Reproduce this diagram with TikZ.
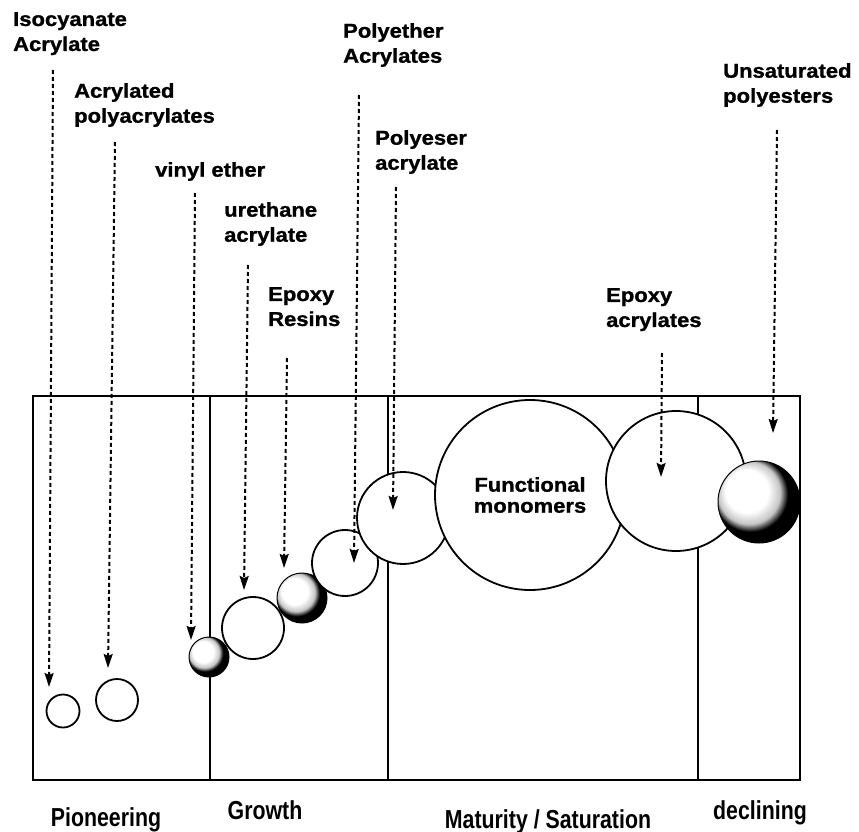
\documentclass[tikz,border=0pt]{standalone}
\usepackage{fontspec}
\setmainfont{Liberation Sans}
\newfontfamily\labfont{Liberation Sans}[FakeStretch=1.1, FakeBold=1.2]
\newfontfamily\phasefont{Liberation Sans}[FakeStretch=0.82]
\usetikzlibrary{arrows.meta}

\pgfdeclareradialshading{sphere}{\pgfpoint{-10bp}{9bp}}{%
  color(0bp)=(white); color(13bp)=(white); color(19bp)=(gray!45);
  color(23bp)=(black); color(50bp)=(black)}

\begin{document}
\begin{tikzpicture}[x=1pt, y=-1pt,
  lab/.style={anchor=north west, inner sep=0pt, align=left, font=\labfont\bfseries\fontsize{20}{25}\selectfont},
  phase/.style={anchor=north, inner sep=0pt, font=\phasefont\bfseries\fontsize{26}{30}\selectfont},
  bubble/.style={circle, draw, line width=1.8pt, fill=white, inner sep=0pt},
  ball/.style={circle, draw, line width=1pt, shading=sphere, inner sep=0pt},
  arr/.style={-{Stealth[length=14pt, width=9pt, inset=2pt]}, line width=2pt, dash pattern=on 4pt off 3pt}]
\useasboundingbox (0,0) rectangle (859,832);

% frame and phases
\draw[line width=2pt] (33,396) rectangle (800,780);
\draw[line width=2.4pt] (210,396) -- (210,780);
\draw[line width=2pt] (388,396) -- (388,780);
\draw[line width=2pt] (698,396) -- (698,780);

\node[phase] (pio) at (106,807) {Pioneering};
\node[phase] (gro) at (265,800) {Growth};
\node[phase] (mat) at (548,809) {Maturity / Saturation};
\node[phase] (dec) at (760,800) {declining};

% bubbles
\node[bubble, minimum size=33pt] (iso) at (63,711) {};
\node[bubble, minimum size=42pt] (acr) at (117,700) {};
\node[ball, minimum size=40pt] (vin) at (209,657) {};
\node[bubble, minimum size=62pt] (ure) at (253,628) {};
\node[ball, minimum size=50pt] (epr) at (302,598) {};
\node[bubble, minimum size=66pt] (pet) at (345,563) {};
\node[bubble, minimum size=92pt] (pes) at (403,518) {};
\node[bubble, minimum size=190pt, align=center, font=\labfont\bfseries\fontsize{20}{21}\selectfont] (fun) at (530,495) {Functional\\monomers};
\node[bubble, minimum size=140pt] (eac) at (676,481) {};
\node[ball, minimum size=82pt] (uns) at (759,502) {};

% labels
\node[lab] (isoL) at (13,12) {Isocyanate\\Acrylate};
\node[lab] (acrL) at (74,83) {Acrylated\\polyacrylates};
\node[lab] (vinL) at (155,162) {vinyl ether};
\node[lab] (ureL) at (224,202) {urethane\\acrylate};
\node[lab] (eprL) at (268,287) {Epoxy\\Resins};
\node[lab] (petL) at (343,23) {Polyether\\Acrylates};
\node[lab] (pesL) at (375,130) {Polyeser\\acrylate};
\node[lab] (eacL) at (606,288) {Epoxy\\acrylates};
\node[lab] (unsL) at (723,63) {Unsaturated\\polyesters};

% pointers
\coordinate (isoS) at (53,70);   \coordinate (isoE) at (49,687);
\coordinate (acrS) at (115,142); \coordinate (acrE) at (108,668);
\coordinate (vinS) at (195,193); \coordinate (vinE) at (191,640);
\coordinate (ureS) at (248,265); \coordinate (ureE) at (244,590);
\coordinate (eprS) at (287,358); \coordinate (eprE) at (284,568);
\coordinate (petS) at (359,95);  \coordinate (petE) at (354,563);
\coordinate (pesS) at (396,187); \coordinate (pesE) at (393,510);
\coordinate (eacS) at (662,353); \coordinate (eacE) at (661,477);
\coordinate (unsS) at (777,130); \coordinate (unsE) at (773,433);
\foreach \k in {iso,acr,vin,ure,epr,pet,pes,eac,uns}
  \draw[arr] (\k S) -- (\k E);
\end{tikzpicture}
\end{document}
